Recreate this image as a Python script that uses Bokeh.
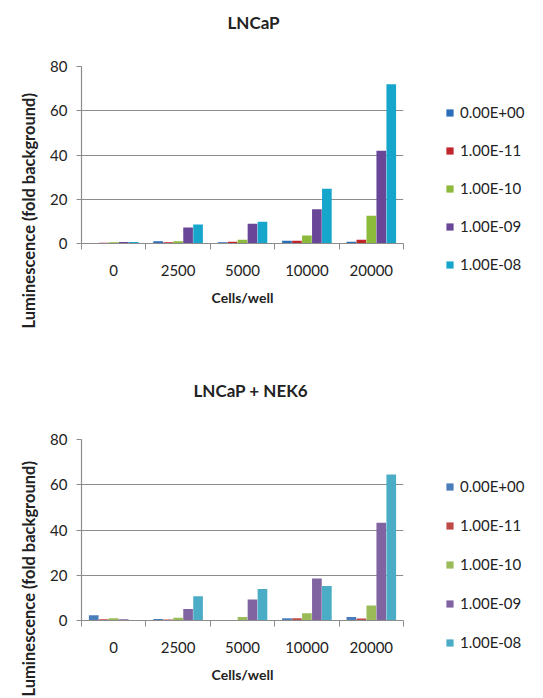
import numpy as np
from bokeh.plotting import figure
from bokeh.layouts import column
from bokeh.models import (ColumnDataSource, Range1d, FixedTicker, Legend, LegendItem, Title)
from bokeh.transform import dodge
from bokeh.embed import file_html
from bokeh.resources import INLINE

# Cells per well (x categories)
cells = ["0", "2500", "5000", "10000", "20000"]
# Concentration series names
series = ["0.00E+00", "1.00E-11", "1.00E-10", "1.00E-09", "1.00E-08"]

# LNCaP: luminescence (fold background), one list per concentration
lncap_0 = [0.2, 1.0, 0.6, 1.2, 0.75]
lncap_1e11 = [0.3, 0.6, 0.75, 1.2, 1.7]
lncap_1e10 = [0.6, 1.0, 1.7, 3.6, 12.5]
lncap_1e09 = [0.7, 7.2, 8.9, 15.5, 41.9]
lncap_1e08 = [0.7, 8.6, 9.8, 24.8, 72.0]

# LNCaP + NEK6
nek6_0 = [2.3, 0.7, 0.1, 1.0, 1.5]
nek6_1e11 = [0.6, 0.4, 0.1, 1.0, 0.9]
nek6_1e10 = [1.0, 1.2, 1.5, 3.2, 6.6]
nek6_1e09 = [0.6, 5.1, 9.25, 18.6, 43.2]
nek6_1e08 = [0.15, 10.7, 13.95, 15.3, 64.5]

colors_top = ["#2a6db8", "#c0262c", "#8cba3a", "#6a4699", "#17a6cb"]
colors_bottom = ["#4a7ebb", "#be4b48", "#9bbb59", "#8064a2", "#4bacc6"]

GRID = "#8c8c8c"
FONT = "Lato"
FRAME_W = 322
LEFT = 81


def make_chart(title, data, colors, top, frame_h, bottom, legend_y, legend_spacing,
               title_offset, title_gap, ylabel_offset):
    n = len(cells)
    src = ColumnDataSource(dict(x=np.arange(n) + 0.5,
                                **{f"s{i}": v for i, v in enumerate(data)}))
    p = figure(width=543, height=top + frame_h + bottom,
               frame_width=FRAME_W, frame_height=frame_h,
               min_border_left=LEFT, min_border_right=543 - LEFT - FRAME_W,
               min_border_top=top, min_border_bottom=bottom,
               x_range=Range1d(0, n), y_range=Range1d(0, 80),
               output_backend="svg", toolbar_location=None,
               background_fill_color="white", border_fill_color="white")
    p.outline_line_color = None
    p.xgrid.grid_line_color = None
    p.ygrid.grid_line_color = GRID
    p.ygrid.grid_line_width = 1.2
    p.ygrid.ticker = FixedTicker(ticks=[20, 40, 60, 80])

    # y axis
    p.yaxis.ticker = FixedTicker(ticks=[0, 20, 40, 60, 80])
    p.yaxis.axis_line_color = GRID
    p.yaxis.axis_line_width = 1.2
    p.yaxis.major_tick_line_color = GRID
    p.yaxis.major_tick_out = 5
    p.yaxis.major_tick_in = 0
    p.yaxis.minor_tick_line_color = None
    p.yaxis.major_label_standoff = 9
    p.yaxis.major_label_text_font = FONT
    p.yaxis.major_label_text_font_size = "15px"
    p.yaxis.major_label_text_color = "#222222"

    # x axis: labels at category centres, separator ticks at boundaries
    p.xaxis.ticker = FixedTicker(ticks=list(np.arange(n) + 0.5),
                                 minor_ticks=list(range(n + 1)))
    p.xaxis.major_label_overrides = {float(i) + 0.5: c for i, c in enumerate(cells)}
    p.xaxis.axis_line_color = GRID
    p.xaxis.axis_line_width = 1.2
    p.xaxis.major_tick_line_color = None
    p.xaxis.major_tick_out = 0
    p.xaxis.major_tick_in = 0
    p.xaxis.minor_tick_line_color = GRID
    p.xaxis.minor_tick_out = 6
    p.xaxis.minor_tick_in = 0
    p.xaxis.major_label_standoff = 15
    p.xaxis.major_label_text_font = FONT
    p.xaxis.major_label_text_font_size = "15px"
    p.xaxis.major_label_text_color = "#222222"
    p.xaxis.axis_label = "Cells/well"
    p.xaxis.axis_label_text_font = FONT
    p.xaxis.axis_label_text_font_style = "bold"
    p.xaxis.axis_label_text_font_size = "14px"
    p.xaxis.axis_label_text_color = "#222222"
    p.xaxis.axis_label_standoff = 10

    bar_w = 0.15
    offsets = [-0.31, -0.155, 0.0, 0.155, 0.31]
    items = []
    for i, (name, col) in enumerate(zip(series, colors)):
        r = p.vbar(x=dodge("x", offsets[i], range=p.x_range), top=f"s{i}",
                   width=bar_w, bottom=0, source=src,
                   fill_color=col, line_color=None)
        items.append(LegendItem(label=name, renderers=[r]))

    legend = Legend(items=items, location=(42, legend_y),
                    orientation="vertical", glyph_width=9, glyph_height=9,
                    label_height=20, spacing=legend_spacing, padding=0, margin=0,
                    label_standoff=6, border_line_color=None,
                    background_fill_alpha=0, label_text_font=FONT,
                    label_text_font_size="15px", label_text_color="#222222")
    p.add_layout(legend, "right")

    # blank spacer between the frame and the chart title
    p.add_layout(Title(text=" ", standoff=title_gap, text_font=FONT,
                       text_font_size="17px"), "above")
    p.add_layout(Title(text=title, align="left", offset=title_offset, standoff=16,
                       text_font=FONT, text_font_style="bold",
                       text_font_size="17px", text_color="#222222"), "above")
    p.add_layout(Title(text="Luminescence (fold background)", align="left",
                       offset=ylabel_offset, standoff=18, text_font=FONT,
                       text_font_style="bold", text_font_size="16.5px",
                       text_color="#222222"), "left")
    return p


p1 = make_chart("LNCaP",
                [lncap_0, lncap_1e11, lncap_1e10, lncap_1e09, lncap_1e08],
                colors_top, top=66, frame_h=177, bottom=106,
                legend_y=-31, legend_spacing=18,
                title_offset=146, title_gap=3, ylabel_offset=-85)
p2 = make_chart("LNCaP + NEK6",
                [nek6_0, nek6_1e11, nek6_1e10, nek6_1e09, nek6_1e08],
                colors_bottom, top=90, frame_h=181, bottom=78,
                legend_y=-32, legend_spacing=19,
                title_offset=112, title_gap=8, ylabel_offset=-76)

layout = column(p1, p2, spacing=0)
open("out.html", "w").write(file_html(layout, INLINE))
